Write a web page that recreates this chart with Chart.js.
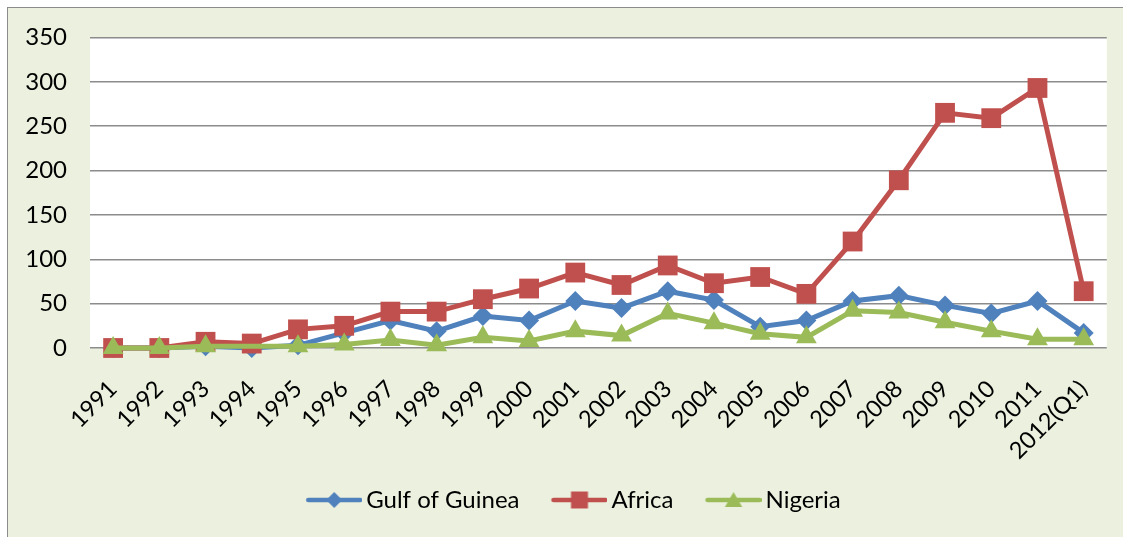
<!DOCTYPE html>
<html><head><meta charset="utf-8">
<script src="https://cdn.jsdelivr.net/npm/chart.js@4"></script>
<style>
html,body{margin:0;padding:0;background:#ffffff;width:1123px;height:537px;overflow:hidden;}
#frame{position:absolute;left:7px;top:7px;width:1130px;height:540px;border:1.5px solid #8C8C8C;background:#EBF1DE;box-sizing:border-box;}
canvas{position:absolute;left:0;top:0;}
</style></head><body>
<div id="frame"></div>
<canvas id="c" width="1123" height="537"></canvas>
<script>
const categories = ['1991','1992','1993','1994','1995','1996','1997','1998','1999','2000','2001','2002','2003','2004','2005','2006','2007','2008','2009','2010','2011','2012(Q1)'];
const gulfOfGuinea = [0,0,2,0,3,17,31,19,36,31,53,45,64,54,24,31,53,59,48,39,53,17];
const africa = [0,0,7,5,21,25,41,41,55,67,85,71,93,73,80,61,120,189,265,259,293,64];
const nigeria = [0,0,2,null,2,4,9,3,12,8,19,14,39,28,16,12,42,40,29,19,10,10];
const yMin = 0, yMax = 350, yStep = 50;

const FONT = 'Lato, "Open Sans", sans-serif';

function drawShape(ctx, style, x, y, r) {
  ctx.beginPath();
  if (style === 'rectRot') {
    ctx.moveTo(x - r, y); ctx.lineTo(x, y - r); ctx.lineTo(x + r, y); ctx.lineTo(x, y + r);
  } else if (style === 'rect') {
    const s = r * Math.SQRT1_2;
    ctx.rect(x - s, y - s, 2 * s, 2 * s);
  } else if (style === 'triangle') {
    ctx.moveTo(x, y - r);
    ctx.lineTo(x + r * 0.866, y + r * 0.5);
    ctx.lineTo(x - r * 0.866, y + r * 0.5);
  }
  ctx.closePath();
  ctx.fill();
}
// icon canvas is 16px wider than the legend box; content sits in its right part
function legendIcon(color, style, r) {
  const cv = document.createElement('canvas');
  cv.width = 72; cv.height = 26;
  const ctx = cv.getContext('2d');
  ctx.strokeStyle = color; ctx.fillStyle = color; ctx.lineWidth = 4.5; ctx.lineCap = 'round';
  ctx.beginPath(); ctx.moveTo(18, 13); ctx.lineTo(70, 13); ctx.stroke();
  drawShape(ctx, style, 44, style === 'triangle' ? 15 : 13, r);
  return cv;
}

const series = [
  {label:'Gulf of Guinea', data:gulfOfGuinea, color:'#4F81BD', style:'rectRot', r:10, lr:8, order:2},
  {label:'Africa', data:africa, color:'#C0504D', style:'rect', r:14, lr:12, order:1},
  {label:'Nigeria', data:nigeria, color:'#9BBB59', style:'triangle', r:12, lr:10, order:0}
];

const plotBg = {
  id:'plotBg',
  afterLayout(chart){
    if (chart.legend) { chart.legend.left += 16; chart.legend.right += 16; }
  },
  beforeDraw(chart){
    const {ctx, chartArea:a} = chart;
    ctx.save(); ctx.fillStyle = '#ffffff';
    ctx.fillRect(a.left, a.top, a.right - a.left, a.bottom - a.top);
    ctx.restore();
  }
};

new Chart(document.getElementById('c'), {
  type:'line',
  data:{
    labels:categories,
    datasets:series.map(s => ({
      label:s.label, data:s.data, borderColor:s.color, backgroundColor:s.color,
      borderWidth:5, pointStyle:s.style, pointRadius:s.r, pointHoverRadius:s.r,
      pointBorderWidth:0, pointBackgroundColor:s.color, tension:0, spanGaps:true,
      clip:false, order:s.order
    }))
  },
  options:{
    responsive:false, animation:false, devicePixelRatio:1,
    layout:{padding:{left:0, right:16, top:37, bottom:15}},
    plugins:{
      tooltip:{enabled:false},
      legend:{
        position:'bottom',
        labels:{
          usePointStyle:true, pointStyleWidth:56, padding:24,
          color:'#000', font:{family:FONT, size:24},
          generateLabels(){
            return series.map((s,i) => ({
              text:s.label, pointStyle:legendIcon(s.color, s.style, s.lr),
              fillStyle:s.color, strokeStyle:s.color, lineWidth:0, datasetIndex:i, hidden:false
            }));
          }
        }
      }
    },
    scales:{
      x:{
        offset:true,
        grid:{display:false},
        border:{display:false},
        ticks:{color:'#000', font:{family:FONT, size:23.5}, minRotation:45, maxRotation:45, autoSkip:false, padding:19},
        afterFit(scale){ scale.height = 116; }
      },
      y:{
        min:yMin, max:yMax,
        border:{display:false},
        grid:{color:'#8C8C8C', lineWidth:1.5, drawTicks:false},
        ticks:{stepSize:yStep, color:'#000', font:{family:FONT, size:24}, padding:23},
        afterFit(scale){ scale.width = 90; }
      }
    }
  },
  plugins:[plotBg]
});
</script></body></html>
